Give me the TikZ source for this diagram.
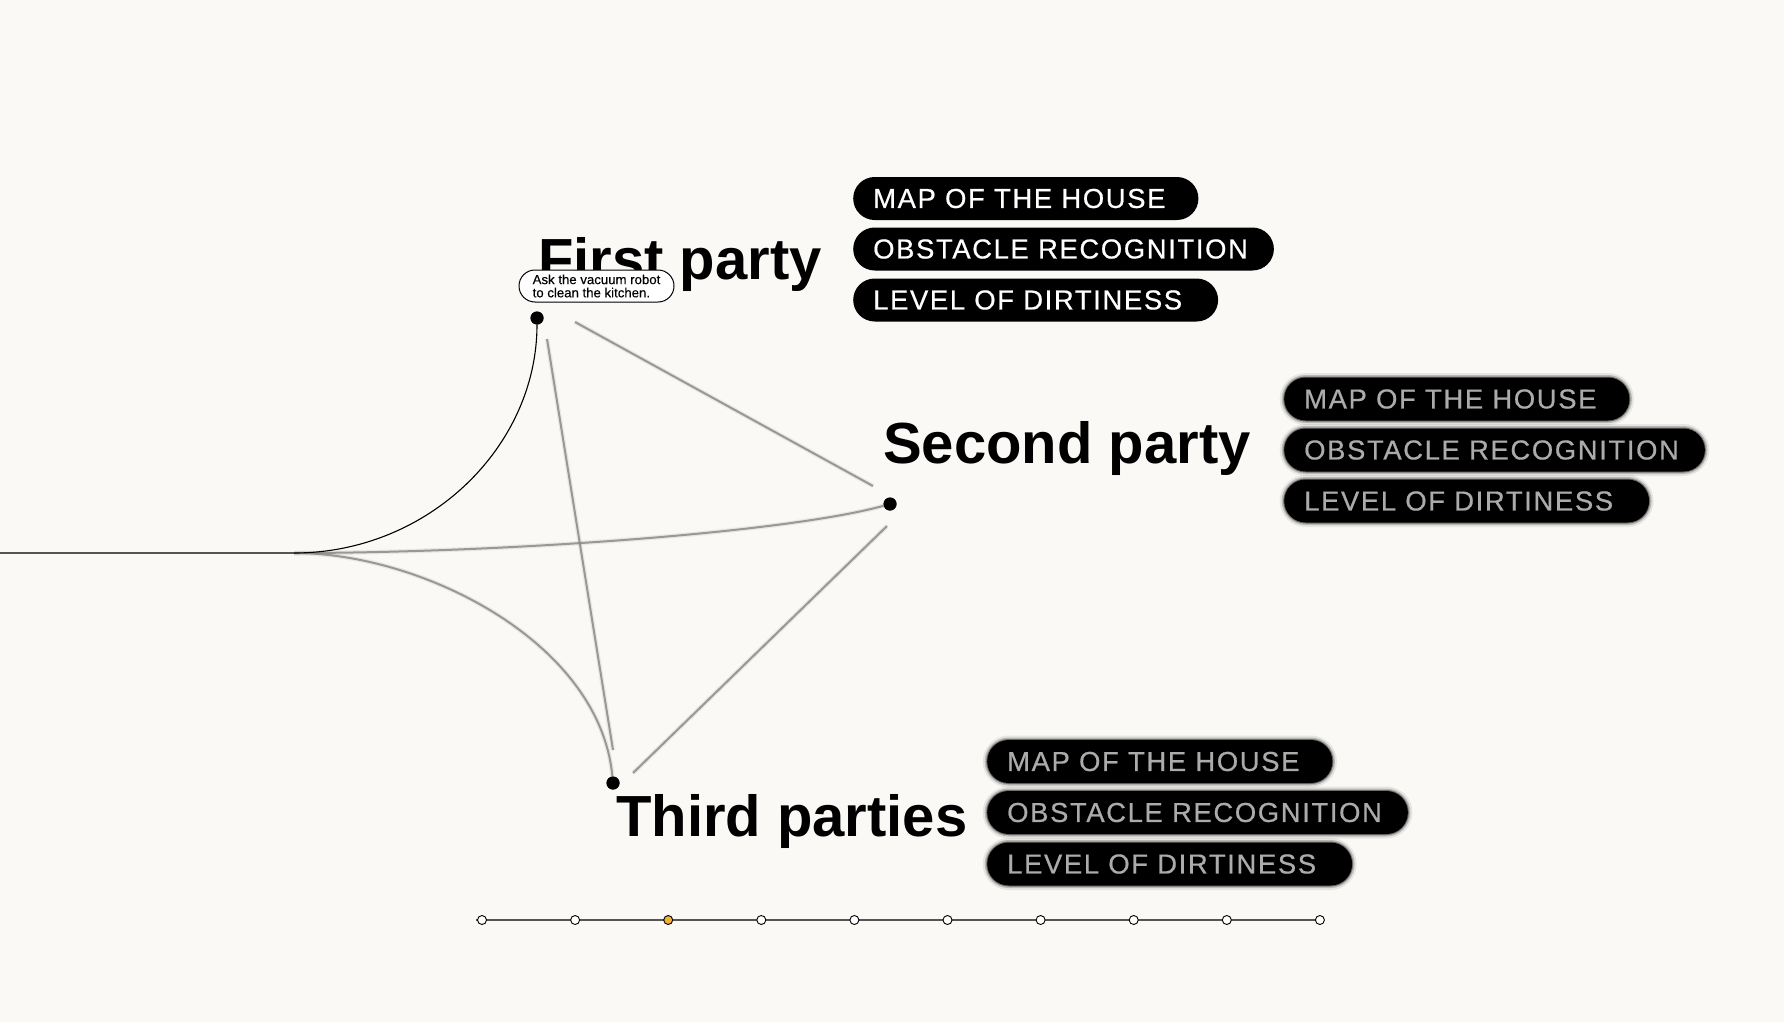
\documentclass[tikz,border=0pt]{standalone}
\usepackage{fontspec}
\setmainfont{Liberation Sans}
\newfontfamily\pillfont[LetterSpace=6,FakeBold=0.6]{Liberation Sans}
\newfontfamily\bubfont[FakeBold=0.3]{Liberation Sans}
\definecolor{bg}{HTML}{FAF9F5}
\definecolor{lgray}{HTML}{8A8A8A}
\definecolor{tgray}{HTML}{ABABAB}
\definecolor{tline}{HTML}{555555}
\definecolor{dotorange}{HTML}{F0B235}
\tikzset{
  title/.style={anchor=base west, inner sep=0pt, font=\fontsize{58}{60}\selectfont\bfseries},
  pill/.style={anchor=west, fill=black, text=white, rounded corners=21.5pt, minimum height=43pt, inner xsep=20pt, inner ysep=0pt, font=\pillfont\fontsize{27.4}{27.4}\selectfont},
  bpill/.style={pill, text=tgray,
    preaction={draw=black, line width=9pt, draw opacity=0.08},
    preaction={draw=black, line width=5pt, draw opacity=0.2},
    preaction={draw=black, line width=2pt, draw opacity=0.4}},
  bigdot/.style={circle, fill=black, inner sep=0pt, minimum size=13pt},
  tdot/.style={circle, draw=black, line width=0.9pt, fill=white, inner sep=0pt, minimum size=9pt},
  gline/.style={draw=lgray, line width=2pt, opacity=0.85,
    preaction={draw=lgray, line width=4.5pt, draw opacity=0.15}},
  bcurve/.style={draw=black, line width=1.1pt},
  bubble/.style={draw=black, line width=1pt, fill=white, rounded corners=16pt, minimum width=155pt, minimum height=32pt, inner sep=0pt, align=left, font=\bubfont\fontsize{13.2}{13.2}\selectfont}
}
\begin{document}
\begin{tikzpicture}[x=1pt,y=-1pt]
\useasboundingbox (0,0) rectangle (1784,1022);
\fill[bg] (0,0) rectangle (1784,1022);

% anchor points
\coordinate (lstart) at (0,553);
\coordinate (start) at (294,553);
\node[bigdot] (first) at (537,318) {};
\node[bigdot] (second) at (890,504) {};
\node[bigdot] (third) at (613,783) {};

% connectors
\draw[draw=tline, line width=1.8pt] (lstart) -- (start);
\draw[gline] (start) .. controls +(206,0) and +(-105,29) .. (second);
\draw[gline] (start) .. controls +(130,0) and +(-13,-140) .. (third);
\draw[gline] ([shift={(38,4)}]first.center) -- ([shift={(-17,-18)}]second.center);
\draw[gline] ([shift={(10,21)}]first.center) -- ([shift={(0,-33)}]third.center);
\draw[gline] ([shift={(-3,22)}]second.center) -- ([shift={(20,-10)}]third.center);
\draw[bcurve] (start) .. controls +(134,0) and +(0,129) .. (first);

% dots on top
\node[bigdot] at (first) {};
\node[bigdot] at (second) {};
\node[bigdot] at (third) {};

% titles
\node[title] (t1) at (538,279) {First party};
\node[title] (t2) at (883,463) {Second party};
\node[title] (t3) at (616,836) {Third parties};

% bubble
\node[bubble] (bub) at (596.5,286) {Ask the vacuum robot\\to clean the kitchen.};

% first party pills
\node[pill] (a1) at (853,198.5) {MAP OF THE HOUSE\hspace*{13pt}};
\node[pill] (a2) at (853,249) {OBSTACLE RECOGNITION\hspace*{6pt}};
\node[pill] (a3) at (853,300) {LEVEL OF DIRTINESS\hspace*{16pt}};

% second party pills (blurred)
\node[bpill] (b1) at (1284,399) {MAP OF THE HOUSE\hspace*{13pt}};
\node[bpill] (b2) at (1284,450) {OBSTACLE RECOGNITION\hspace*{6pt}};
\node[bpill] (b3) at (1284,501) {LEVEL OF DIRTINESS\hspace*{16pt}};

% third party pills (blurred)
\node[bpill] (c1) at (987,761.5) {MAP OF THE HOUSE\hspace*{13pt}};
\node[bpill] (c2) at (987,812.5) {OBSTACLE RECOGNITION\hspace*{6pt}};
\node[bpill] (c3) at (987,864) {LEVEL OF DIRTINESS\hspace*{16pt}};

% timeline
\foreach \i in {0,...,9} {\coordinate (tc\i) at ({482+93.1*\i},920);}
\coordinate (tlstart) at (476,920);
\draw[draw=tline, line width=1.4pt] (tlstart) -- (tc9);
\foreach \i in {0,1,3,4,5,6,7,8,9} {\node[tdot] (td\i) at (tc\i) {};}
\node[tdot, fill=dotorange] (td2) at (tc2) {};
\end{tikzpicture}
\end{document}
